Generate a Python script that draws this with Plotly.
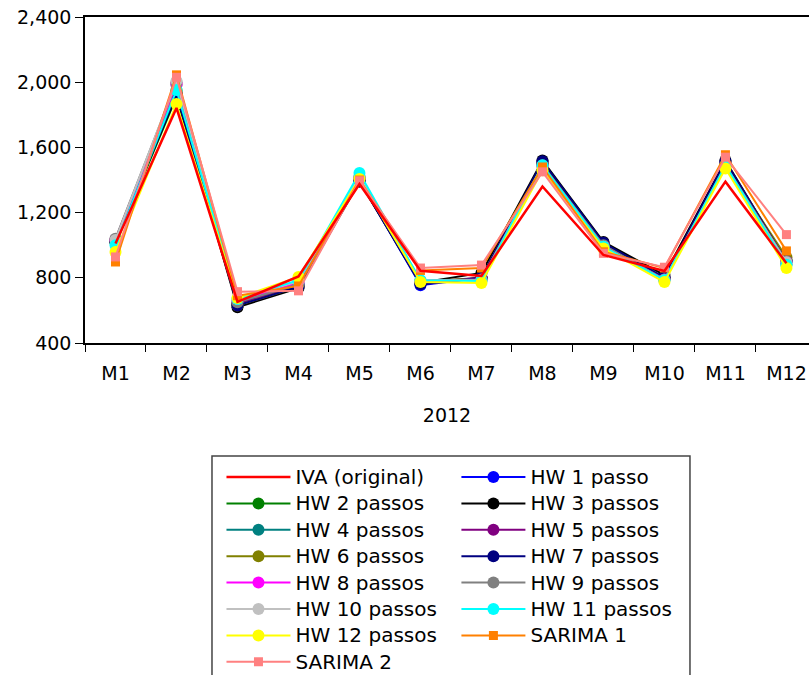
import plotly.graph_objects as go

months = ["M1", "M2", "M3", "M4", "M5", "M6", "M7", "M8", "M9", "M10", "M11", "M12"]

iva_original = [1010, 1842, 652, 808, 1375, 843, 811, 1360, 940, 842, 1390, 890]
hw_1 = [1020, 1930, 640, 760, 1400, 755, 800, 1500, 1010, 800, 1500, 900]
hw_2 = [1015, 1910, 635, 750, 1395, 770, 800, 1500, 1005, 800, 1490, 910]
hw_3 = [1030, 1920, 620, 737, 1390, 770, 830, 1520, 1020, 817, 1520, 900]
hw_4 = [1020, 1940, 645, 760, 1420, 780, 790, 1490, 1000, 790, 1490, 880]
hw_5 = [1035, 1985, 640, 750, 1400, 775, 800, 1505, 1010, 800, 1505, 905]
hw_6 = [1025, 1950, 630, 745, 1410, 780, 795, 1495, 1000, 795, 1495, 925]
hw_7 = [1025, 1930, 630, 745, 1395, 760, 800, 1515, 1015, 800, 1515, 900]
hw_8 = [1030, 1990, 660, 770, 1410, 780, 790, 1485, 995, 790, 1480, 900]
hw_9 = [1040, 2000, 650, 760, 1415, 780, 790, 1490, 1000, 790, 1490, 900]
hw_10 = [1032, 2007, 670, 780, 1420, 785, 785, 1480, 990, 785, 1480, 895]
hw_11 = [1000, 1952, 670, 785, 1443, 785, 780, 1490, 990, 785, 1490, 880]
hw_12 = [958, 1866, 676, 805, 1406, 774, 768, 1460, 980, 774, 1470, 860]
sarima_1 = [897, 2045, 690, 750, 1400, 845, 860, 1480, 960, 860, 1555, 965]
sarima_2 = [928, 2030, 715, 720, 1395, 860, 878, 1450, 950, 865, 1540, 1065]

y_ticks = [400, 800, 1200, 1600, 2000, 2400]

# (name, values, colour, marker symbol, legend column)
series = [
    ("HW 1 passo", hw_1, "#0000FF", "circle", "legend2"),
    ("HW 2 passos", hw_2, "#008000", "circle", "legend"),
    ("HW 3 passos", hw_3, "#000000", "circle", "legend2"),
    ("HW 4 passos", hw_4, "#008080", "circle", "legend"),
    ("HW 5 passos", hw_5, "#800080", "circle", "legend2"),
    ("HW 6 passos", hw_6, "#808000", "circle", "legend"),
    ("HW 7 passos", hw_7, "#000080", "circle", "legend2"),
    ("HW 8 passos", hw_8, "#FF00FF", "circle", "legend"),
    ("HW 9 passos", hw_9, "#808080", "circle", "legend2"),
    ("HW 10 passos", hw_10, "#C0C0C0", "circle", "legend"),
    ("HW 11 passos", hw_11, "#00FFFF", "circle", "legend2"),
    ("HW 12 passos", hw_12, "#FFFF00", "circle", "legend"),
    ("SARIMA 1", sarima_1, "#FF8000", "square", "legend2"),
    ("SARIMA 2", sarima_2, "#FF8080", "square", "legend"),
]


def legend_label(text):
    # slightly larger glyphs than the legend's row spacing font
    return '<span style="font-size:20px">' + text + "</span>"


fig = go.Figure()

for rank, (name, vals, color, sym, leg) in enumerate(series, start=2):
    size = 12 if sym == "circle" else 9
    fig.add_trace(go.Scatter(
        x=months, y=vals, name=legend_label(name), mode="lines+markers",
        line=dict(color=color, width=2),
        marker=dict(color=color, symbol=sym, size=size),
        legend=leg, legendrank=rank,
    ))

# original series drawn last so it sits on top
fig.add_trace(go.Scatter(
    x=months, y=iva_original, name=legend_label("IVA (original)"), mode="lines",
    line=dict(color="#FF0000", width=2.5),
    legend="legend", legendrank=1,
))

legend_style = dict(
    orientation="v", xanchor="left", yanchor="top",
    borderwidth=0, bgcolor="rgba(0,0,0,0)",
    font=dict(family="DejaVu Sans", size=18, color="black"),
    itemwidth=64, tracegroupgap=0, traceorder="normal", maxheight=2000,
)

fig.update_layout(
    width=809, height=675,
    margin=dict(l=85, r=0, t=17, b=332, autoexpand=False),
    paper_bgcolor="white", plot_bgcolor="white",
    font=dict(family="DejaVu Sans", size=19, color="black"),
    showlegend=True,
    legend=dict(x=0.1885, y=-0.3552, **legend_style),
    legend2=dict(x=0.5130, y=-0.3552, **legend_style),
    xaxis=dict(
        type="category", range=[-0.5, 11.37],
        showline=True, linecolor="black", linewidth=1.5, mirror=True,
        ticks="outside", ticklen=7, tickcolor="black", tickwidth=1,
        tickson="boundaries", showgrid=False, zeroline=False,
        ticklabelstandoff=12,
        title=dict(text="2012", font=dict(size=19), standoff=26),
    ),
    yaxis=dict(
        range=[400, 2400], tickvals=y_ticks, tickformat=",",
        showline=True, linecolor="black", linewidth=1.5,
        ticks="outside", ticklen=8, tickcolor="black", tickwidth=1,
        showgrid=False, zeroline=False,
    ),
    shapes=[dict(
        type="rect", xref="paper", yref="paper",
        x0=0.1754, x1=0.8356, y0=-0.3466, y1=-1.2,
        line=dict(color="#444444", width=1.5), fillcolor="rgba(0,0,0,0)",
        layer="above",
    )],
)

fig.write_html("out.html")
